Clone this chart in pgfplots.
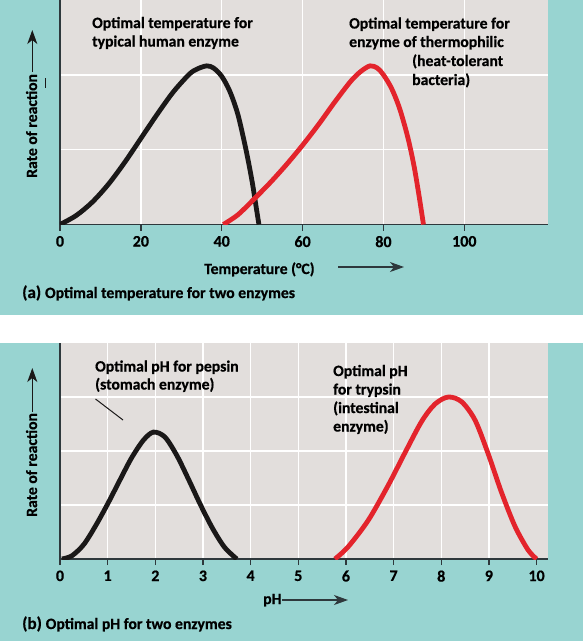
\documentclass[border=0pt]{standalone}
\usepackage{fontspec}
\setmainfont{Carlito}[BoldFeatures={FakeBold=0.6}]
\usepackage{pgfplots}
\pgfplotsset{compat=1.18}
\usetikzlibrary{arrows.meta}

\definecolor{panelteal}{RGB}{152,212,209}
\definecolor{plotgray}{RGB}{226,222,220}
\definecolor{axisdark}{RGB}{46,56,60}
\definecolor{curvered}{RGB}{227,36,44}
\definecolor{curveblack}{RGB}{26,24,24}

\newcommand{\lbl}{\bfseries\fontsize{15.7}{19}\selectfont}
\newcommand{\tag}{\bfseries\fontsize{17}{19}\selectfont}
\tikzset{bigarrow/.style={line width=1.2pt, -{Stealth[length=14pt,width=10pt,inset=4pt]}}}

\pgfplotsset{
  enzymepanel/.style={
    scale only axis,
    width=488pt,
    anchor=south west,
    axis background/.style={fill=plotgray},
    axis x line=bottom,
    axis y line=left,
    axis line style={draw=axisdark, line width=1.3pt, -},
    grid=major,
    major grid style={draw=white, line width=1.5pt},
    tick align=outside,
    major tick length=6pt,
    xtick style={draw=axisdark, line width=1.3pt},
    ytick style={draw=none},
    yticklabels={},
    ymin=0,
    xmin=0,
    /pgf/number format/assume math mode=true,
    xticklabel style={font=\bfseries\fontsize{16}{19}\selectfont, yshift=-2pt},
    clip=true,
  },
  curve/.style={line width=4.8pt, smooth},
}

\begin{document}
\begin{tikzpicture}
\useasboundingbox (0,0) rectangle (583pt,-641pt);
\fill[white] (0,0) rectangle (583pt,-641pt);
\fill[panelteal] (0,0) rectangle (583pt,-315pt);
\fill[panelteal] (0,-343pt) rectangle (583pt,-641pt);

% (a) rate against temperature
\begin{axis}[enzymepanel,
  at={(60pt,-224.5pt)},
  height=224.5pt,
  xmax=120.7, ymax=3,
  xtick={0,20,40,60,80,100},
  ytick={1,2},
]
\addplot[curve, curveblack] coordinates {
  (0,0) (4,0.12) (8,0.30) (12,0.54) (16,0.83) (20,1.15) (24,1.47)
  (28,1.77) (32,2.01) (34,2.08) (36.3,2.12) (38,2.09) (40,1.98)
  (42,1.78) (44,1.47) (46,1.0) (47.5,0.58) (48.5,0.24) (49.2,0)
};
\addplot[curve, curvered] coordinates {
  (40.4,0) (44,0.13) (48,0.34) (52,0.56) (56,0.8) (60,1.06) (64,1.34)
  (68,1.64) (72,1.92) (74.5,2.05) (76.7,2.12) (78.5,2.09) (80,2.0)
  (82,1.82) (84,1.55) (86,1.17) (87.5,0.8) (88.7,0.42) (89.9,0)
};
\end{axis}

% (b) rate against pH
\begin{axis}[enzymepanel,
  at={(60pt,-559pt)},
  height=216pt,
  xmax=10.24, ymax=4,
  xtick={0,1,...,9},
  extra x ticks={10},
  extra x tick style={grid=none},
  ytick={1,2,3},
]
\addplot[curve, curveblack] coordinates {
  (0.04,0) (0.25,0.06) (0.5,0.27) (0.75,0.62) (1.0,1.02) (1.25,1.45)
  (1.5,1.87) (1.75,2.2) (1.96,2.35) (2.2,2.26) (2.45,1.92) (2.7,1.47)
  (2.95,1.0) (3.2,0.57) (3.45,0.22) (3.71,0)
};
\addplot[curve, curvered] coordinates {
  (5.77,0) (6.05,0.23) (6.47,0.72) (6.89,1.37) (7.24,1.97) (7.59,2.55)
  (7.87,2.87) (8.15,3.0) (8.43,2.91) (8.71,2.57) (8.98,1.96)
  (9.27,1.22) (9.55,0.6) (9.82,0.17) (10.0,0)
};
\end{axis}

% annotations, panel (a)
\node[anchor=base west, inner sep=0pt] at (92pt,-28pt) {\lbl Optimal temperature for};
\node[anchor=base west, inner sep=0pt] at (92pt,-46.5pt) {\lbl typical human enzyme};
\node[anchor=base west, inner sep=0pt] at (349pt,-28.5pt) {\lbl Optimal temperature for};
\node[anchor=base west, inner sep=0pt] at (349pt,-47pt) {\lbl enzyme of thermophilic};
\node[anchor=base west, inner sep=0pt] at (412pt,-66pt) {\lbl (heat-tolerant};
\node[anchor=base west, inner sep=0pt] at (412pt,-85pt) {\lbl bacteria)};
\node[anchor=base west, inner sep=0pt] at (204pt,-274pt) {\lbl Temperature (°C)};
\draw[axisdark, bigarrow] (338pt,-267pt) -- (404pt,-267pt);
\node[anchor=base west, inner sep=0pt] at (22pt,-298pt) {\tag (a) \lbl Optimal temperature for two enzymes};
\node[anchor=base west, inner sep=0pt, rotate=90] at (37pt,-178pt) {\lbl Rate of reaction};
\draw[curveblack, bigarrow] (32.3pt,-72pt) -- (32.3pt,-30pt);
\draw[curveblack, line width=1pt] (45pt,-78pt) -- (45pt,-88pt);

% annotations, panel (b)
\node[anchor=base west, inner sep=0pt] at (95pt,-371.5pt) {\lbl Optimal pH for pepsin};
\node[anchor=base west, inner sep=0pt] at (95pt,-389.5pt) {\lbl (stomach enzyme)};
\draw[curveblack, line width=1pt] (95.5pt,-399pt) -- (123pt,-420pt);
\node[anchor=base west, inner sep=0pt] at (333pt,-376pt) {\lbl Optimal pH};
\node[anchor=base west, inner sep=0pt] at (333pt,-394.5pt) {\lbl for trypsin};
\node[anchor=base west, inner sep=0pt] at (333pt,-413pt) {\lbl (intestinal};
\node[anchor=base west, inner sep=0pt] at (333pt,-431.5pt) {\lbl enzyme)};
\node[anchor=base west, inner sep=0pt] at (263pt,-604pt) {\lbl pH};
\draw[axisdark, bigarrow] (282pt,-600pt) -- (348pt,-600pt);
\node[anchor=base west, inner sep=0pt] at (22pt,-629pt) {\tag (b) \lbl Optimal pH for two enzymes};
\node[anchor=base west, inner sep=0pt, rotate=90] at (37pt,-517pt) {\lbl Rate of reaction};
\draw[curveblack, bigarrow] (32.3pt,-412pt) -- (32.3pt,-368pt);
\end{tikzpicture}
\end{document}
